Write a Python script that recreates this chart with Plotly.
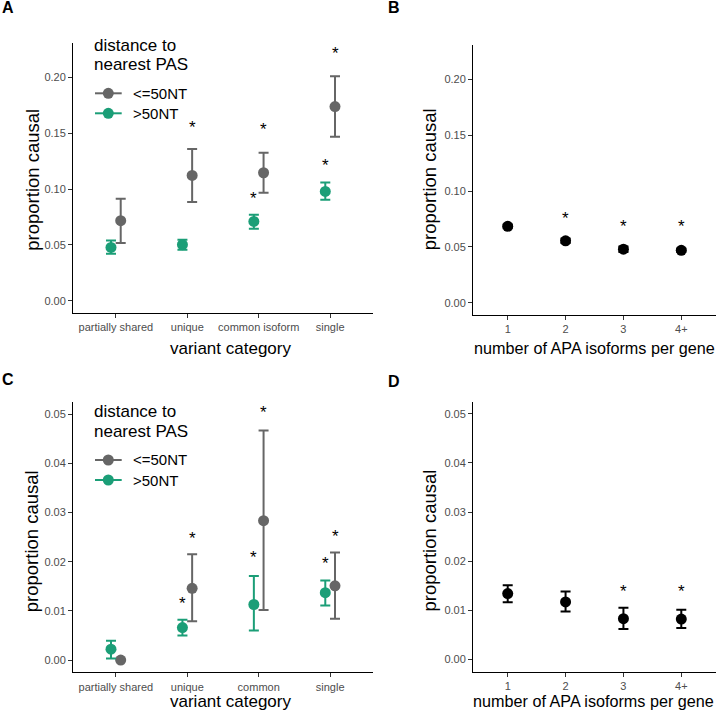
import plotly.graph_objects as go

W, H = 717, 720

# ---------------- data ----------------
cats_top = ["partially shared", "unique", "common isoform", "single"]
cats_bottom = ["partially shared", "unique", "common", "single"]
groups = ["<=50NT", ">50NT"]
legend_title = ["distance to", "nearest PAS"]
iso_labels = ["1", "2", "3", "4+"]

# Panel A
A_near = [0.0717, 0.1123, 0.1147, 0.1740]
A_near_lo = [0.0517, 0.0884, 0.0968, 0.1470]
A_near_hi = [0.0914, 0.1360, 0.1326, 0.2013]
A_far = [0.0478, 0.0502, 0.0711, 0.0980]
A_far_lo = [0.0420, 0.0457, 0.0645, 0.0905]
A_far_hi = [0.0540, 0.0547, 0.0770, 0.1060]
A_near_star = [None, 0.157, 0.155, 0.2234]
A_far_star = [None, None, 0.0935, 0.1234]

# Panel B
B_val = [0.0685, 0.0555, 0.0480, 0.0470]
B_lo = [0.0668, 0.0535, 0.0455, 0.0455]
B_hi = [0.0702, 0.0575, 0.0505, 0.0485]
B_star = [None, 0.0775, 0.0698, 0.0698]

# Panel C
C_near = [0.0000, 0.0146, 0.02835, 0.0151]
C_near_lo = [0.0000, 0.0079, 0.0102, 0.0084]
C_near_hi = [0.0000, 0.0215, 0.0467, 0.0219]
C_far = [0.0022, 0.0066, 0.0113, 0.0137]
C_far_lo = [0.0003, 0.0050, 0.0060, 0.0111]
C_far_hi = [0.0039, 0.0082, 0.0171, 0.0162]
C_near_star = [None, 0.0251, 0.0507, 0.0256]
C_far_star = [None, 0.0120, 0.0212, 0.0200]

# Panel D
D_val = [0.0134, 0.0117, 0.0083, 0.0082]
D_lo = [0.01165, 0.00976, 0.0062, 0.0064]
D_hi = [0.0151, 0.0138, 0.0105, 0.0101]
D_star = [None, None, 0.0142, 0.0142]

GREY = "#666666"
GREEN = "#1b9e77"
BLACK = "#000000"
FONT = "Liberation Sans"
DODGE = 0.068

fig = go.Figure()


def px_x(p):
    return p / W


def px_y(p):
    return 1 - p / H


def add_series(vals, lo, hi, xoff, color, xa, ya):
    xs = [i + 1 + xoff for i in range(len(vals))]
    fig.add_trace(go.Scatter(
        x=xs, y=vals, mode="markers", showlegend=False,
        marker=dict(color=color, size=11),
        error_y=dict(type="data", symmetric=False,
                     array=[h - v for h, v in zip(hi, vals)],
                     arrayminus=[v - l for v, l in zip(vals, lo)],
                     color=color, thickness=2, width=5),
        xaxis=xa, yaxis=ya, hoverinfo="skip"))


def add_stars(stars, xoff, xa, ya):
    for i, s in enumerate(stars):
        if s is None:
            continue
        fig.add_annotation(x=i + 1 + xoff, y=s, xref=xa, yref=ya, text="*",
                           showarrow=False, yshift=-2,
                           font=dict(size=17, color="black", family=FONT))


# Panel A
add_series(A_near, A_near_lo, A_near_hi, DODGE, GREY, "x", "y")
add_series(A_far, A_far_lo, A_far_hi, -DODGE, GREEN, "x", "y")
add_stars(A_near_star, DODGE, "x", "y")
add_stars(A_far_star, -DODGE, "x", "y")
# Panel B
add_series(B_val, B_lo, B_hi, 0, BLACK, "x2", "y2")
add_stars(B_star, 0, "x2", "y2")
# Panel C
add_series(C_near, C_near_lo, C_near_hi, DODGE, GREY, "x3", "y3")
add_series(C_far, C_far_lo, C_far_hi, -DODGE, GREEN, "x3", "y3")
add_stars(C_near_star, DODGE, "x3", "y3")
add_stars(C_far_star, -DODGE, "x3", "y3")
# Panel D
add_series(D_val, D_lo, D_hi, 0, BLACK, "x4", "y4")
add_stars(D_star, 0, "x4", "y4")

# ---------------- legends (drawn like ggplot keys) ----------------
shapes = []
for top in [45.0, 411.7]:
    for k, line in enumerate(legend_title):
        fig.add_annotation(text=line, x=px_x(91.5), y=px_y(top + k * 19.3),
                           xref="paper", yref="paper", xanchor="left", yanchor="middle",
                           showarrow=False, font=dict(size=17, family=FONT, color="black"))
    for k, (g, c) in enumerate(zip(groups, [GREY, GREEN])):
        yc = top + 48.3 + k * 20.0
        shapes.append(dict(type="line", xref="paper", yref="paper",
                           x0=px_x(95), x1=px_x(121.7), y0=px_y(yc), y1=px_y(yc),
                           line=dict(color=c, width=2)))
        r = 5.5
        shapes.append(dict(type="circle", xref="paper", yref="paper",
                           x0=px_x(108.3 - r), x1=px_x(108.3 + r),
                           y0=px_y(yc + r), y1=px_y(yc - r),
                           fillcolor=c, line=dict(color=c, width=0)))
        fig.add_annotation(text=g, x=px_x(130.5), y=px_y(yc), xref="paper", yref="paper",
                           xanchor="left", yanchor="middle", showarrow=False,
                           font=dict(size=15, family=FONT, color="black"))

axis_common = dict(showgrid=False, zeroline=False, showline=True, linecolor="black",
                   linewidth=1, ticks="outside", ticklen=4, tickwidth=1,
                   tickcolor="#333333",
                   tickfont=dict(size=11, color="#4d4d4d", family=FONT))

fig.update_layout(
    width=W, height=H, margin=dict(l=0, r=0, t=0, b=0),
    paper_bgcolor="white", plot_bgcolor="white",
    font=dict(family=FONT, color="black"),
    showlegend=False,
    shapes=shapes,
    xaxis=dict(domain=[px_x(73), px_x(373)], range=[0.4, 4.6], anchor="y",
               tickvals=[1, 2, 3, 4], ticktext=cats_top, **axis_common),
    yaxis=dict(domain=[px_y(313), px_y(43)], range=[-0.011, 0.231], anchor="x",
               tickvals=[0, 0.05, 0.10, 0.15, 0.20], tickformat=".2f", **axis_common),
    xaxis2=dict(domain=[px_x(473), px_x(716)], range=[0.4, 4.6], anchor="y2",
                tickvals=[1, 2, 3, 4], ticktext=iso_labels, **axis_common),
    yaxis2=dict(domain=[px_y(315), px_y(45)], range=[-0.011, 0.231], anchor="x2",
                tickvals=[0, 0.05, 0.10, 0.15, 0.20], tickformat=".2f", **axis_common),
    xaxis3=dict(domain=[px_x(73), px_x(373)], range=[0.4, 4.6], anchor="y3",
                tickvals=[1, 2, 3, 4], ticktext=cats_bottom, **axis_common),
    yaxis3=dict(domain=[px_y(672.3), px_y(402.3)], range=[-0.0025, 0.05245], anchor="x3",
                tickvals=[0, 0.01, 0.02, 0.03, 0.04, 0.05], tickformat=".2f", **axis_common),
    xaxis4=dict(domain=[px_x(473), px_x(716)], range=[0.4, 4.6], anchor="y4",
                tickvals=[1, 2, 3, 4], ticktext=iso_labels, **axis_common),
    yaxis4=dict(domain=[px_y(671.7), px_y(401.7)], range=[-0.0025, 0.05245], anchor="x4",
                tickvals=[0, 0.01, 0.02, 0.03, 0.04, 0.05], tickformat=".2f", **axis_common),
)

# axis titles
titles = [
    ("variant category", 230, 348, 0, 17),
    ("number of APA isoforms per gene", 594.5, 348, 0, 16.2),
    ("variant category", 230, 701, 0, 17),
    ("number of APA isoforms per gene", 593, 701, 0, 16.2),
    ("proportion causal", 31.7, 180, -90, 18.5),
    ("proportion causal", 429.7, 179.5, -90, 18.5),
    ("proportion causal", 31.7, 541.5, -90, 18.5),
    ("proportion causal", 429.7, 540.8, -90, 18.5),
]
for t, xp, yp, ang, fs in titles:
    fig.add_annotation(text=t, x=px_x(xp), y=px_y(yp), xref="paper", yref="paper",
                       xanchor="center", yanchor="middle", textangle=ang,
                       showarrow=False, font=dict(size=fs, family=FONT, color="black"))

# panel letters
for t, xp, yp in [("A", 7.5, 8), ("B", 393.5, 8), ("C", 7.5, 379), ("D", 393.5, 381)]:
    fig.add_annotation(text="<b>%s</b>" % t, x=px_x(xp), y=px_y(yp), xref="paper",
                       yref="paper", xanchor="center", yanchor="middle",
                       showarrow=False, font=dict(size=16, family=FONT, color="black"))

fig.write_html("out.html",
               config={"displayModeBar": False},
               post_script="document.body.style.margin='0px';"
                           "document.body.style.overflow='hidden';")
